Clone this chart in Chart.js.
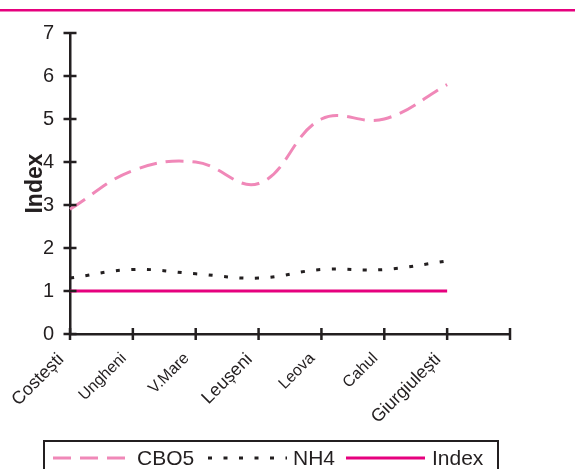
<!DOCTYPE html>
<html>
<head>
<meta charset="utf-8">
<script src="https://cdn.jsdelivr.net/npm/chart.js@4.4.0/dist/chart.umd.min.js"></script>
<style>
  body { margin: 0; background: #fff; }
  #contenedor { width: 575px; height: 469px; position: relative; }
</style>
</head>
<body>
<div id="contenedor"><canvas id="grafico"></canvas></div>
<script>
// datos
const estaciones = ['Costești', 'Ungheni', 'V.Mare', 'Leușeni', 'Leova', 'Cahul', 'Giurgiulești', ''];
const estacionesGrandes = ['Costești', 'Leușeni', 'Giurgiulești'];
const cbo5 = [2.9, 3.8, 4.0, 3.5, 5.0, 5.0, 5.8];
const nh4 = [1.3, 1.5, 1.4, 1.3, 1.5, 1.5, 1.7];
const indice = [1, 1, 1, 1, 1, 1, 1];
const yMin = 0;
const yMax = 7;

const NEGRO = '#231f20';
const MAGENTA = '#e6007e';
const ROSA = '#f088b8';
const FUENTE = '"Liberation Sans", Arial, sans-serif';

// marcas de los ejes que cruzan la linea
const marcasEjes = {
  id: 'marcasEjes',
  afterDraw(chart) {
    const ctx = chart.ctx;
    const x = chart.scales.x;
    const y = chart.scales.y;
    ctx.save();
    ctx.strokeStyle = NEGRO;
    ctx.lineWidth = 2.5;
    ctx.beginPath();
    y.ticks.forEach((t, i) => {
      const py = y.getPixelForTick(i);
      ctx.moveTo(x.left - 6.5, py);
      ctx.lineTo(x.left + 6.5, py);
    });
    x.ticks.forEach((t, i) => {
      const px = x.getPixelForTick(i);
      ctx.moveTo(px, y.bottom - 6);
      ctx.lineTo(px, y.bottom + 6);
    });
    ctx.stroke();
    ctx.restore();
  }
};

// linea magenta arriba y leyenda con borde abajo
const decoracion = {
  id: 'decoracion',
  beforeDraw(chart) {
    const ctx = chart.ctx;
    ctx.save();
    ctx.fillStyle = MAGENTA;
    ctx.fillRect(0, 9, chart.width, 2.5);
    ctx.restore();
  },
  afterDraw(chart) {
    const ctx = chart.ctx;
    ctx.save();
    ctx.strokeStyle = NEGRO;
    ctx.lineWidth = 2;
    ctx.strokeRect(44, 441, 454, 40);
    const items = [
      { x1: 53, x2: 127, tx: 137 },
      { x1: 208, x2: 287, tx: 293 },
      { x1: 346, x2: 425, tx: 432 }
    ];
    const yl = 458;
    ctx.font = '21px ' + FUENTE;
    ctx.textBaseline = 'middle';
    ctx.fillStyle = NEGRO;
    chart.data.datasets.forEach((ds, i) => {
      const it = items[i];
      ctx.beginPath();
      ctx.strokeStyle = ds.borderColor;
      ctx.lineWidth = ds.borderWidth;
      ctx.setLineDash(ds.borderDash || []);
      ctx.moveTo(it.x1, yl);
      ctx.lineTo(it.x2, yl);
      ctx.stroke();
      ctx.setLineDash([]);
      ctx.fillText(ds.label, it.tx, yl + 1);
    });
    ctx.restore();
  }
};

const grafico = new Chart(document.getElementById('grafico'), {
  type: 'line',
  data: {
    labels: estaciones,
    datasets: [
      { label: 'CBO5', data: cbo5, borderColor: ROSA, borderWidth: 3, borderDash: [18, 9], tension: 0.4, pointRadius: 0 },
      { label: 'NH4', data: nh4, borderColor: NEGRO, borderWidth: 3, borderDash: [4, 11.5], tension: 0.4, pointRadius: 0 },
      { label: 'Index', data: indice, borderColor: MAGENTA, borderWidth: 3, tension: 0, pointRadius: 0 }
    ]
  },
  options: {
    responsive: true,
    maintainAspectRatio: false,
    animation: false,
    layout: { padding: { top: 33, right: 65, bottom: 0, left: 0 } },
    plugins: {
      legend: { display: false },
      tooltip: { enabled: false }
    },
    scales: {
      x: {
        offset: false,
        grid: { display: false, drawTicks: false },
        border: { display: true, color: NEGRO, width: 2.5 },
        ticks: {
          autoSkip: false,
          minRotation: 45,
          maxRotation: 45,
          padding: 15,
          labelOffset: -9,
          color: NEGRO,
          font: (c) => ({
            family: FUENTE,
            size: estacionesGrandes.includes(estaciones[c.index]) ? 18 : 16
          })
        },
        afterFit: (s) => { s.height = 135; }
      },
      y: {
        min: yMin,
        max: yMax,
        grid: { display: false, drawTicks: false },
        border: { display: true, color: NEGRO, width: 2.5 },
        ticks: {
          stepSize: 1,
          padding: 16,
          color: NEGRO,
          font: { family: FUENTE, size: 20 }
        },
        title: {
          display: true,
          text: 'Index',
          color: NEGRO,
          font: { family: FUENTE, size: 23, weight: 'bold' },
          padding: { top: 22, bottom: 0 }
        },
        afterFit: (s) => { s.width = 70; }
      }
    }
  },
  plugins: [marcasEjes, decoracion]
});
</script>
</body>
</html>
